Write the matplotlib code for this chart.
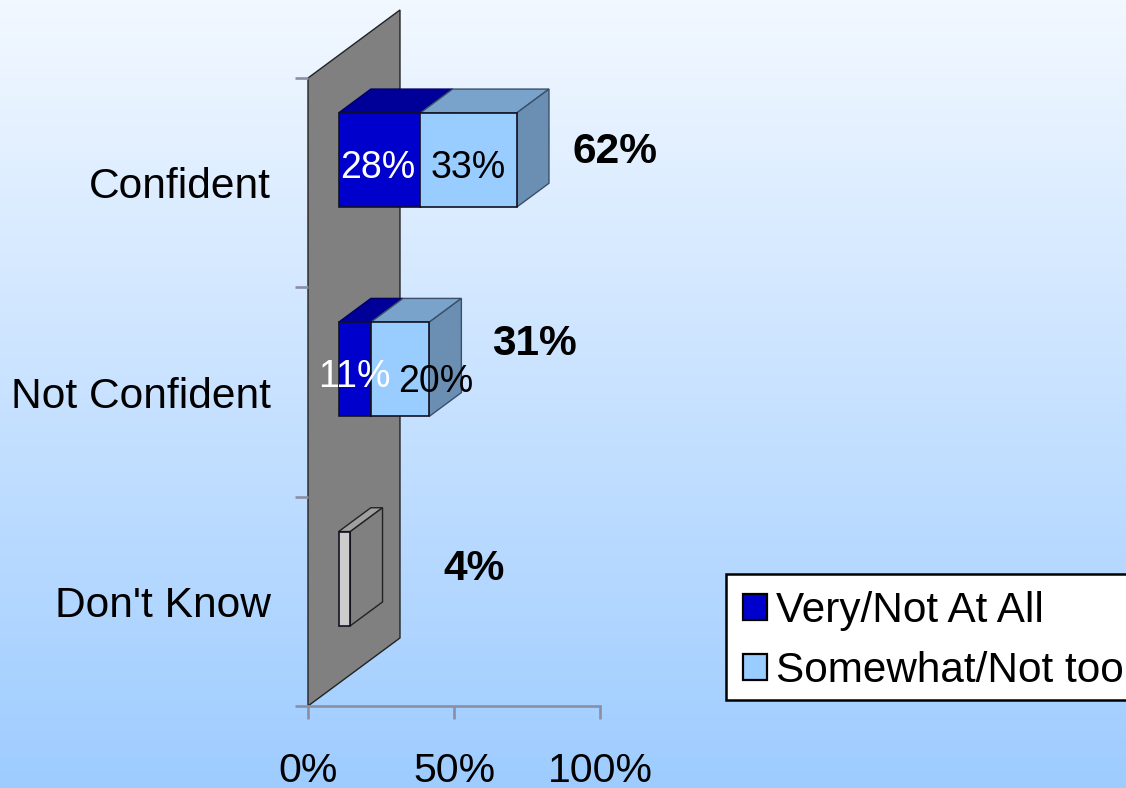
import numpy as np
import matplotlib
matplotlib.use("Agg")
import matplotlib.pyplot as plt
from matplotlib.patches import Patch, Rectangle

plt.rcParams["font.family"] = ["Liberation Sans", "DejaVu Sans"]

categories = ["Don't Know", "Not Confident", "Confident"]
very = [0, 11, 28]
somewhat = [0, 20, 33]
dont_know = [4, 0, 0]
totals = ["4%", "31%", "62%"]
x_ticks = [0, 50, 100]
x_labels = ["0%", "50%", "100%"]
series_names = ["Very/Not At All", "Somewhat/Not too"]

# hand placed labels, same as in the original slide
total_x = [57, 77.6, 105]
total_y = [0.654, 1.73, 2.645]
very_label_x = [None, 15.8, 24.0]
very_label_y = [None, 1.57, 2.57]
somewhat_label_x = [None, 43.6, 54.8]
somewhat_label_y = [None, 1.55, 2.57]

DARK = "#0000CC"
DARK_TOP = "#000099"
LIGHT = "#99CCFF"
LIGHT_TOP = "#7AA3CC"
LIGHT_SIDE = "#6B8EB3"
GRAY = "#CCCCCC"
GRAY_TOP = "#A0A0A0"
GRAY_SIDE = "#808080"
WALL = "#808080"
AXIS = "#8A8FA3"

W, H = 1126, 788
# depth of the fake 3d wall in data units
WALL_DX = 31.5
WALL_DY = 0.325
BAR_H = 0.45

fig = plt.figure(figsize=(W / 100, H / 100), dpi=100)

# background gradient
bg = fig.add_axes([0, 0, 1, 1], zorder=0)
bg.axis("off")
grad = np.linspace(0, 1, 256).reshape(-1, 1)
top_c = np.array([0xF2, 0xF8, 0xFF]) / 255
bot_c = np.array([0x9E, 0xCC, 0xFF]) / 255
bg.imshow(top_c + (bot_c - top_c) * grad[..., None], aspect="auto")

ax = fig.add_axes([308 / W, (H - 706) / H, 292 / W, 628 / H], zorder=1)
ax.patch.set_alpha(0)
ax.set_xlim(0, 100)
ax.set_ylim(0, 3)

# wall
ax.fill([0, WALL_DX, WALL_DX, 0], [0, WALL_DY, 3 + WALL_DY, 3], facecolor=WALL,
        edgecolor="#222222", linewidth=1.0, clip_on=False, zorder=1)

off_x = WALL_DX / 3
off_y = WALL_DY / 3
depth_x = WALL_DX * 0.35
depth_y = WALL_DY * 0.35


def box(left, value, y, front, top, side, edge):
    if value == 0:
        return
    bottom = y + off_y - BAR_H / 2
    upper = bottom + BAR_H
    x0 = left + off_x
    x1 = x0 + value
    ax.barh(y + off_y, value, height=BAR_H, left=x0, color=front, edgecolor="#111122",
            linewidth=1.2, clip_on=False, zorder=3)
    ax.fill([x0, x1, x1 + depth_x, x0 + depth_x],
            [upper, upper, upper + depth_y, upper + depth_y],
            facecolor=top, edgecolor=edge, linewidth=1.0, clip_on=False, zorder=2)
    ax.fill([x1, x1 + depth_x, x1 + depth_x, x1],
            [bottom, bottom + depth_y, upper + depth_y, upper],
            facecolor=side, edgecolor=edge, linewidth=1.0, clip_on=False, zorder=2)


pos = np.arange(3) + 0.5
# dark first, the light box covers its side
for i, y in enumerate(pos):
    box(0, very[i], y, DARK, DARK_TOP, DARK_TOP, "#000066")
    box(very[i], somewhat[i], y, LIGHT, LIGHT_TOP, LIGHT_SIDE, "#3A5068")
    box(0, dont_know[i], y, GRAY, GRAY_TOP, GRAY_SIDE, "#222222")

for i in range(3):
    if very[i] > 0:
        ax.text(very_label_x[i], very_label_y[i], f"{very[i]}%", color="white", fontsize=27,
                ha="center", va="center", clip_on=False, zorder=5)
        ax.text(somewhat_label_x[i], somewhat_label_y[i], f"{somewhat[i]}%", color="black", fontsize=27,
                ha="center", va="center", clip_on=False, zorder=5)
    ax.text(total_x[i], total_y[i], totals[i], color="black", fontsize=30.6, fontweight="bold",
            ha="center", va="center", clip_on=False, zorder=5)

for s in ["top", "right", "left"]:
    ax.spines[s].set_visible(False)
ax.spines["bottom"].set_color(AXIS)
ax.spines["bottom"].set_linewidth(1.9)

ax.set_xticks(x_ticks)
ax.set_xticklabels(x_labels, fontsize=29.5)
ax.set_yticks([0, 1, 2, 3])
ax.set_yticklabels([])
ax.set_yticks(pos, minor=True)
ax.set_yticklabels(categories, minor=True, fontsize=30.6)
ax.tick_params(axis="x", length=9.4, width=1.9, color=AXIS, pad=23.5)
ax.tick_params(axis="y", which="major", length=9.4, width=1.9, color=AXIS)
ax.tick_params(axis="y", which="minor", length=0, pad=26.6)

# legend frame runs off the right edge of the slide
frame = Rectangle((726 / W, (H - 700) / H), 420 / W, 126 / H, transform=fig.transFigure,
                  facecolor="white", edgecolor="black", linewidth=1.8, zorder=5)
fig.add_artist(frame)

handles = [Patch(facecolor=DARK, edgecolor="black", linewidth=1.6),
           Patch(facecolor=LIGHT, edgecolor="black", linewidth=1.6)]
leg = fig.legend(handles, series_names, loc="lower left",
                 bbox_to_anchor=(726 / W, (H - 708) / H), fontsize=30.4, frameon=False,
                 handlelength=0.56, handleheight=0.56, handletextpad=0.22,
                 borderpad=0.4, borderaxespad=0, labelspacing=0.47)
leg.set_zorder(10)

fig.savefig("out.png", dpi=100)
